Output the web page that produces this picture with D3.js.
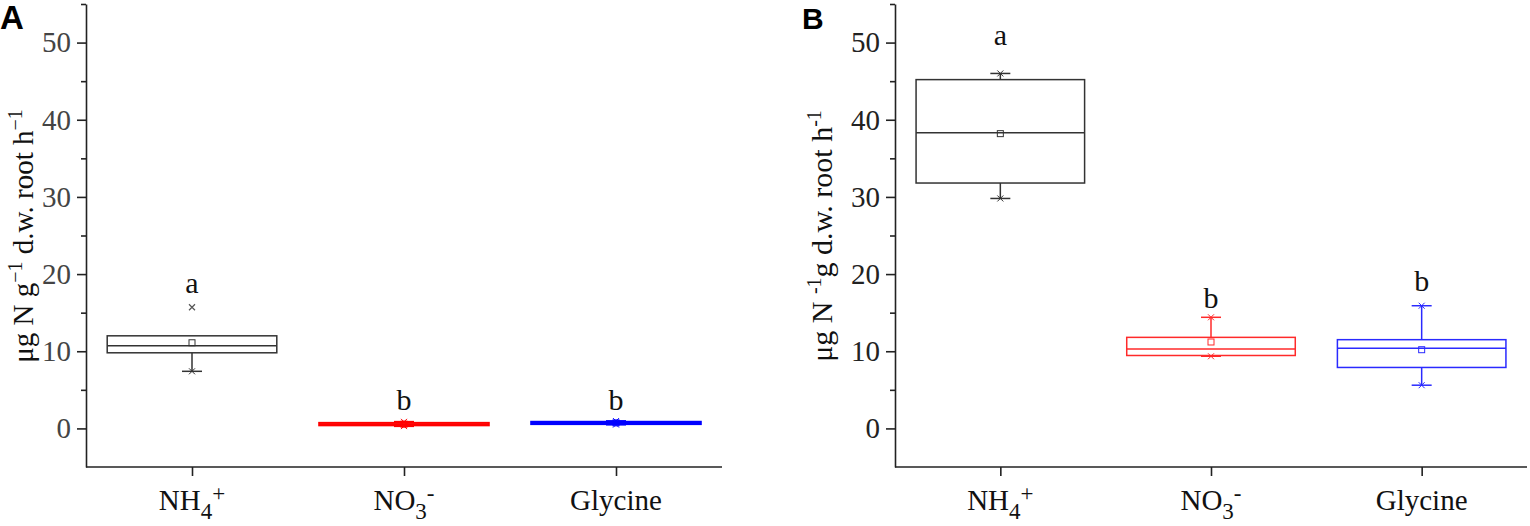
<!DOCTYPE html>
<html>
<head>
<meta charset="utf-8">
<script src="https://cdn.jsdelivr.net/npm/d3@7"></script>
<style>
  body { margin: 0; background: #fff; }
  svg { display: block; }
</style>
</head>
<body>
<div id="chart"></div>
<script>
// categories and tick values
var categories = ["NH4+", "NO3-", "Glycine"];
var yTicks = [0, 10, 20, 30, 40, 50];
var yMinorTicks = [5, 15, 25, 35, 45, 55];

// panel A box stats
var aLow = [7.4, 0.3, 0.5];
var aQ1 = [9.8, 0.4, 0.56];
var aMedian = [10.7, 0.55, 0.7];
var aQ3 = [12.0, 0.72, 0.86];
var aHigh = [12.0, 0.85, 0.95];
var aMean = [11.1, 0.55, 0.72];
var aOutliers = [[15.7], [], []];
var aLetters = ["a", "b", "b"];
var aLetterY = [18.7, 3.5, 3.5];

// panel B box stats
var bLow = [29.8, 9.35, 5.6];
var bQ1 = [31.8, 9.45, 7.9];
var bMedian = [38.3, 10.3, 10.4];
var bQ3 = [45.2, 11.8, 11.5];
var bHigh = [46.0, 14.4, 15.9];
var bMean = [38.2, 11.2, 10.2];
var bOutliers = [[], [], []];
var bLetters = ["a", "b", "b"];
var bLetterY = [50.9, 16.8, 19.0];

var width = 1530, height = 526;
var serif = "'Liberation Serif', 'Times New Roman', serif";

var svg = d3.select("#chart").append("svg")
  .attr("width", width)
  .attr("height", height);

// shared y scale
var y = d3.scaleLinear().domain([-5, 55]).range([467, 4]);

// category label pieces: [text, shift]
var labelParts = {
  "NH4+": [["NH", 0], ["4", 1], ["+", -1]],
  "NO3-": [["NO", 0], ["3", 1], ["-", -1]],
  "Glycine": [["Glycine", 0]]
};

function drawPanel(p) {
  var x = d3.scalePoint().domain(categories).range([p.left, p.right]).padding(0.5);
  var boxW = x.step() * 0.8;
  var capW = 20;
  var g = svg.append("g");

  // y axis, major ticks
  var yAxis = g.append("g")
    .attr("transform", "translate(" + p.left + ",0)")
    .call(d3.axisLeft(y).tickValues(yTicks).tickSize(9).tickSizeOuter(0).tickPadding(6));
  yAxis.select(".domain").attr("stroke", "#222").attr("stroke-width", 1.6);
  yAxis.selectAll(".tick line").attr("stroke", "#222").attr("stroke-width", 1.6);
  yAxis.selectAll(".tick text")
    .style("font-family", serif).style("font-size", "29px").attr("fill", p.tickColor);

  // minor ticks
  var minor = g.append("g")
    .attr("transform", "translate(" + p.left + ",0)")
    .call(d3.axisLeft(y).tickValues(yMinorTicks).tickSize(5).tickSizeOuter(0).tickFormat(""));
  minor.select(".domain").remove();
  minor.selectAll(".tick line").attr("stroke", "#222").attr("stroke-width", 1.6);

  // x axis
  var xAxis = g.append("g")
    .attr("transform", "translate(0," + y(-5) + ")")
    .call(d3.axisBottom(x).tickSize(9).tickSizeOuter(0).tickFormat(""));
  xAxis.select(".domain").attr("stroke", "#222").attr("stroke-width", 1.6)
    .attr("d", "M" + p.left + ",0H" + p.right);
  xAxis.selectAll(".tick line").attr("stroke", "#222").attr("stroke-width", 1.6);

  // category labels
  categories.forEach(function(c) {
    var t = g.append("text")
      .attr("x", x(c))
      .attr("y", 510)
      .attr("text-anchor", "middle")
      .style("font-family", serif)
      .style("font-size", "29px")
      .attr("fill", "#111");
    var shift = 0;
    labelParts[c].forEach(function(part) {
      var dy = part[1] * 9 - shift;
      shift = part[1] * 9;
      t.append("tspan")
        .attr("dy", dy)
        .style("font-size", part[1] === 0 ? "29px" : "23px")
        .text(part[0]);
    });
  });

  // boxes
  categories.forEach(function(c, i) {
    var cx = x(c);
    var col = p.colors[i];
    var bg = g.append("g").attr("stroke", col).attr("fill", "none").attr("stroke-width", p.boxStroke[i]);

    // whiskers
    bg.append("line").attr("x1", cx).attr("x2", cx).attr("y1", y(p.low[i])).attr("y2", y(p.q1[i]));
    if (p.high[i] > p.q3[i]) {
      bg.append("line").attr("x1", cx).attr("x2", cx).attr("y1", y(p.q3[i])).attr("y2", y(p.high[i]));
      bg.append("line").attr("x1", cx - capW / 2).attr("x2", cx + capW / 2)
        .attr("y1", y(p.high[i])).attr("y2", y(p.high[i]));
    }
    bg.append("line").attr("x1", cx - capW / 2).attr("x2", cx + capW / 2)
      .attr("y1", y(p.low[i])).attr("y2", y(p.low[i]));

    // box
    bg.append("rect")
      .attr("x", cx - boxW / 2)
      .attr("width", boxW)
      .attr("y", y(p.q3[i]))
      .attr("height", y(p.q1[i]) - y(p.q3[i]));
    bg.append("line")
      .attr("x1", cx - boxW / 2).attr("x2", cx + boxW / 2)
      .attr("y1", y(p.median[i])).attr("y2", y(p.median[i]));

    // mean square
    bg.append("rect")
      .attr("x", cx - 3).attr("y", y(p.mean[i]) - 3)
      .attr("width", 6).attr("height", 6)
      .attr("stroke-width", 1);

    // min / max crosses
    [p.low[i], p.high[i]].forEach(function(v, k) {
      if (k === 1 && p.high[i] <= p.q3[i]) return;
      bg.append("path")
        .attr("d", "M" + (cx - 3) + "," + (y(v) - 3) + "l6,6M" + (cx + 3) + "," + (y(v) - 3) + "l-6,6")
        .attr("stroke-width", 1);
    });

    // outliers
    p.outliers[i].forEach(function(v) {
      g.append("path")
        .attr("d", "M" + (cx - 3) + "," + (y(v) - 3) + "l6,6M" + (cx + 3) + "," + (y(v) - 3) + "l-6,6")
        .attr("stroke", "#555").attr("stroke-width", 1.2);
    });

    // significance letters
    g.append("text")
      .attr("x", cx)
      .attr("y", y(p.letterY[i]))
      .attr("dy", "0.3em")
      .attr("text-anchor", "middle")
      .style("font-family", serif)
      .style("font-size", "30px")
      .attr("fill", "#111")
      .text(p.letters[i]);
  });

  // y axis title
  var yt = g.append("text")
    .attr("transform", "translate(" + p.titleX + ",236) rotate(-90)")
    .attr("text-anchor", "middle")
    .style("font-family", serif)
    .style("font-size", p.titleSize + "px")
    .attr("fill", "#111");
  var up = 0;
  p.title.forEach(function(part) {
    var dy = -part[1] * 11 + up;
    up = part[1] * 11;
    yt.append("tspan")
      .attr("dy", dy)
      .style("font-size", part[1] ? "20px" : p.titleSize + "px")
      .text(part[0]);
  });

  // panel letter
  g.append("text")
    .attr("x", p.letterX)
    .attr("y", 29)
    .style("font-family", "'Liberation Sans', Arial, sans-serif")
    .style("font-weight", "bold")
    .style("font-size", p.letterSize)
    .attr("fill", "#000")
    .text(p.panel);
}

drawPanel({
  panel: "A", letterX: 0, letterSize: "33px",
  left: 86, right: 722, titleX: 33, titleSize: 29, tickColor: "#444",
  colors: ["#333333", "#ff0000", "#0000ff"],
  boxStroke: [1.5, 2, 2],
  low: aLow, q1: aQ1, median: aMedian, q3: aQ3, high: aHigh, mean: aMean,
  outliers: aOutliers, letters: aLetters, letterY: aLetterY,
  title: [["μg N g", 0], ["−1", 1], [" d.w. root h", 0], ["−1", 1]]
});

drawPanel({
  panel: "B", letterX: 802, letterSize: "30px",
  left: 895, right: 1527, titleX: 832, titleSize: 30, tickColor: "#222",
  colors: ["#333333", "#ff2a2a", "#2a2aff"],
  boxStroke: [1.5, 1.5, 1.5],
  low: bLow, q1: bQ1, median: bMedian, q3: bQ3, high: bHigh, mean: bMean,
  outliers: bOutliers, letters: bLetters, letterY: bLetterY,
  title: [["μg N ", 0], ["-1", 1], ["g d.w.  root h", 0], ["-1", 1]]
});
</script>
</body>
</html>
